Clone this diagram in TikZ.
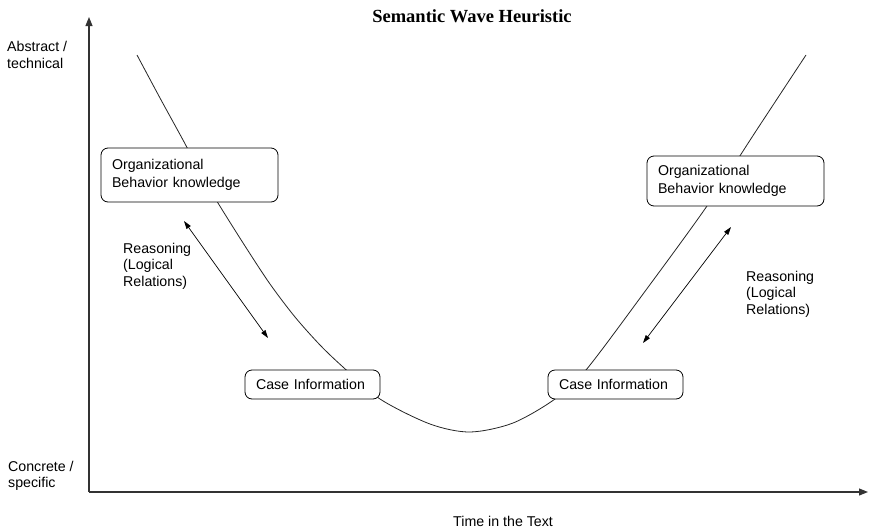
\documentclass[tikz,border=0pt]{standalone}
\usepackage{fontspec}
\setmainfont{Liberation Sans}
\newfontfamily\titlefont{Liberation Serif}
\usetikzlibrary{arrows.meta}
\tikzset{
  lbl/.style={font=\fontsize{14.2}{16.5}\selectfont, align=left, inner sep=0pt},
  kbox/.style={draw, rounded corners=7pt, fill=white, line width=0.8pt,
    font=\fontsize{14.2}{18}\selectfont, align=left, inner xsep=11pt, inner ysep=0pt},
  axis/.style={line width=1.1pt, draw=black!80, -{Triangle[length=9pt,width=7pt]}},
  wave/.style={line width=0.8pt, draw=black!85},
  reason/.style={line width=0.7pt, {Triangle[length=8pt,width=5pt]}-{Triangle[length=8pt,width=5pt]}}
}
\begin{document}
\begin{tikzpicture}[x=1pt,y=-1pt]
\useasboundingbox (0,0) rectangle (871,528);
% axes
\coordinate (o) at (89,492);
\coordinate (ytop) at (89,17);
\coordinate (xend) at (868,492);
\draw[axis] (o) -- (ytop);
\draw[axis] (o) -- (xend);
% title and axis labels
\node[font=\titlefont\bfseries\fontsize{18.5}{20}\selectfont] (title) at (472,16) {Semantic Wave Heuristic};
\node[lbl, anchor=west] (abs) at (7,55) {Abstract /\\technical};
\node[lbl, anchor=west] (con) at (8,476) {Concrete /\\specific};
\node[lbl, anchor=west] (time) at (453,521) {Time in the Text};
% wave
\draw[wave] plot[smooth, tension=0.5] coordinates {
  (137,55) (160,98) (183,140) (200,172) (218,203) (245,246) (270,284)
  (295,317) (320,345) (343,367) (380,399) (430,424) (470,432)
  (513,423) (555,399) (586,370) (646,290) (707,206) (756,131) (806,55)};
% boxes
\node[kbox, minimum width=177pt, minimum height=54pt, text width=155pt] (ob1) at (189.5,175) {Organizational\\Behavior knowledge};
\node[kbox, minimum width=177pt, minimum height=50pt, text width=155pt] (ob2) at (735.5,181) {Organizational\\Behavior knowledge};
\node[kbox, minimum width=135pt, minimum height=29pt, text width=113pt] (ci1) at (312.5,384.5) {Case Information};
\node[kbox, minimum width=135pt, minimum height=29pt, text width=113pt] (ci2) at (615.5,384.5) {Case Information};
% reasoning arrows
\coordinate (r1a) at (184,221);
\coordinate (r1b) at (268,338);
\coordinate (r2a) at (731,227);
\coordinate (r2b) at (643,343);
\draw[reason] (r1a) -- (r1b);
\draw[reason] (r2a) -- (r2b);
\node[lbl, anchor=north west] (re1) at (123,243) {Reasoning\\(Logical\\Relations)};
\node[lbl, anchor=north west] (re2) at (746,271) {Reasoning\\(Logical\\Relations)};
\end{tikzpicture}
\end{document}
